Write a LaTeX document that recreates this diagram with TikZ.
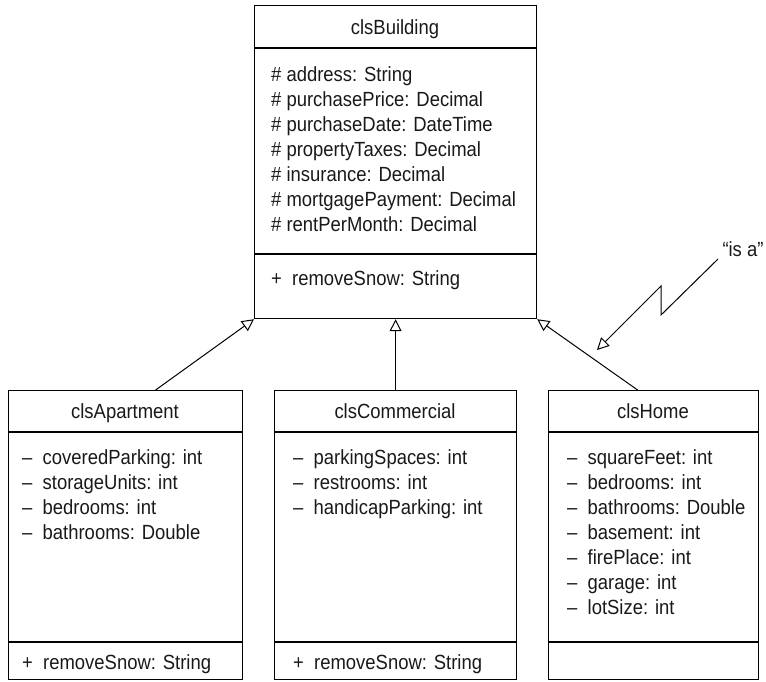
\documentclass[tikz,border=0pt]{standalone}
\usepackage{fontspec}
\setmainfont[FakeStretch=0.9]{Liberation Sans}
\usetikzlibrary{arrows.meta}

\tikzset{
  classbox/.style={draw, line width=1.2pt, anchor=north west, inner sep=0pt},
  titlerule/.style={line width=2pt},
  partrule/.style={line width=1.2pt},
  member/.style={anchor=base west, inner sep=0pt, text=black!90, font=\fontsize{20.5}{25}\selectfont},
  clsname/.style={anchor=base, inner sep=0pt, text=black!90, font=\fontsize{20.5}{25}\selectfont},
  isarrow/.style={line width=1pt, -{Triangle[open, length=12pt, width=12pt]}},
}

\begin{document}
\begin{tikzpicture}[x=1pt, y=-1pt]
  \useasboundingbox (0,0) rectangle (766,681);

  % the four class boxes
  \node[classbox, minimum width=282, minimum height=313] (bld) at (254,5) {};
  \node[classbox, minimum width=234, minimum height=289] (apt) at (8,390) {};
  \node[classbox, minimum width=242, minimum height=289] (com) at (274,390) {};
  \node[classbox, minimum width=210, minimum height=289] (home) at (548,390) {};

  \foreach \b/\t/\p in {bld/43/249, apt/42/252, com/42/252, home/42/252} {
    \draw[titlerule] ([yshift=-\t]\b.north west) -- ([yshift=-\t]\b.north east);
    \draw[partrule] ([yshift=-\p]\b.north west) -- ([yshift=-\p]\b.north east);
  }

  % class names
  \node[clsname] (bld-name) at (395,34) {clsBuilding};
  \node[clsname] (apt-name) at (125,418) {clsApartment};
  \node[clsname] (com-name) at (395,418) {clsCommercial};
  \node[clsname] (home-name) at (653,418) {clsHome};

  % attributes
  \foreach \m [count=\i] in {address: String, purchasePrice: Decimal,
      purchaseDate: DateTime, propertyTaxes: Decimal, insurance: Decimal,
      mortgagePayment: Decimal, rentPerMonth: Decimal} {
    \node[member] (bld-m\i) at (271, {56+25*\i}) {\# \m};
  }
  \foreach \m [count=\i] in {coveredParking: int, storageUnits: int,
      bedrooms: int, bathrooms: Double} {
    \node[member] (apt-m\i) at (22, {439+25*\i}) {--\enspace\m};
  }
  \foreach \m [count=\i] in {parkingSpaces: int, restrooms: int,
      handicapParking: int} {
    \node[member] (com-m\i) at (293, {439+25*\i}) {--\enspace\m};
  }
  \foreach \m [count=\i] in {squareFeet: int, bedrooms: int,
      bathrooms: Double, basement: int, firePlace: int, garage: int,
      lotSize: int} {
    \node[member] (home-m\i) at (567, {439+25*\i}) {--\enspace\m};
  }

  % operations
  \node[member] (bld-op) at (271,285) {+\enspace removeSnow: String};
  \node[member] (apt-op) at (22,669) {+\enspace removeSnow: String};
  \node[member] (com-op) at (293,669) {+\enspace removeSnow: String};

  % generalisation
  \draw[isarrow] ([xshift=30]apt.north) -- (bld.south west);
  \draw[isarrow] (com.north) -- (bld.south);
  \draw[isarrow] ([xshift=-16]home.north) -- (bld.south east);

  % "is a" note
  \node[clsname, anchor=center] (isa) at (743,249) {``is a''};
  \coordinate (zig-start) at (718,259);
  \coordinate (zig-low) at (661,315);
  \coordinate (zig-high) at (661,286);
  \coordinate (zig-tip) at (597,350);
  \draw[isarrow] (zig-start) -- (zig-low) -- (zig-high) -- (zig-tip);
\end{tikzpicture}
\end{document}
